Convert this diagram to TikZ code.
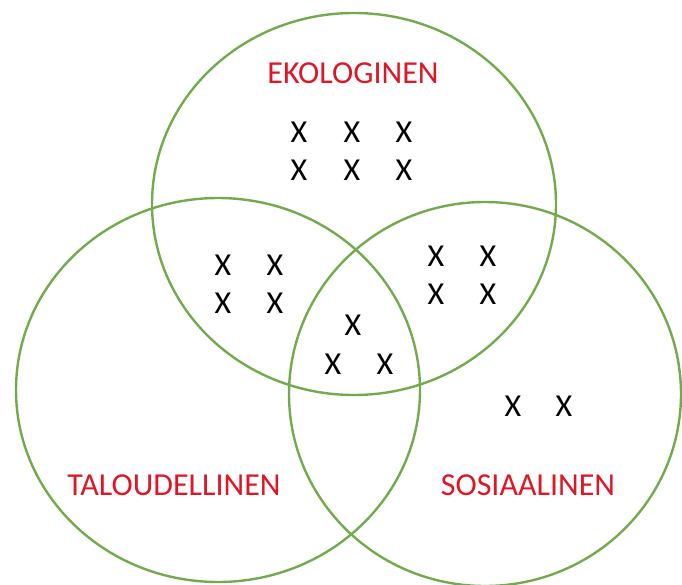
\documentclass[tikz,border=0pt]{standalone}
\usepackage{xcolor}
\usepackage{fontspec}
\setmainfont{Carlito}
\usepackage{tikz}

\definecolor{ringgreen}{RGB}{116,170,78}
\definecolor{labelred}{RGB}{222,22,38}

\begin{document}
\begin{tikzpicture}[x=1pt,y=-1pt,
  ring/.style={draw=ringgreen, line width=2.4pt},
  setlabel/.style={text=labelred, font=\fontsize{32}{38}\selectfont, inner sep=0pt},
  cross/.style={font=\fontsize{32}{38}\selectfont, inner sep=0pt}]

\useasboundingbox (0,0) rectangle (682,585);

\draw[ring] (354,204) ellipse [x radius=202, y radius=191];
\draw[ring] (218,390) ellipse [x radius=202, y radius=192];
\draw[ring] (485,394) ellipse [x radius=196, y radius=192];

\node[setlabel] (eko) at (353,73) {EKOLOGINEN};
\node[setlabel] (talo) at (174,485) {TALOUDELLINEN};
\node[setlabel] (sosi) at (528,485) {SOSIAALINEN};

\foreach \px/\py [count=\k] in {299/132, 352/132, 404/132, 299/170, 352/170, 404/170,
                                 223/265, 275/265, 223/303, 275/303,
                                 436/256, 488/256, 436/294, 488/294,
                                 353/325, 333/364, 385/364,
                                 513/406, 564/406} {
  \node[cross] (x\k) at (\px,\py) {X};
}

\end{tikzpicture}
\end{document}
